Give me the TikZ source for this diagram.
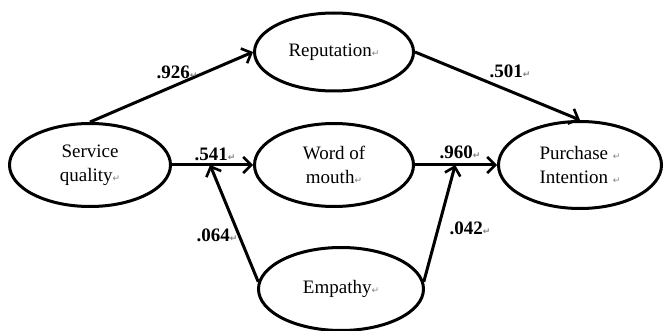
\documentclass[tikz,border=0pt]{standalone}
\usepackage{fontspec}
\setmainfont{Liberation Serif}
\newfontfamily\symf{DejaVu Sans}
\usetikzlibrary{arrows.meta,shapes.geometric,calc}
\newcommand{\rmark}{{\symf\fontsize{9}{9}\selectfont\color{gray}↵}}
\begin{document}
\begin{tikzpicture}[x=1pt,y=-1pt,
  ell/.style={ellipse,draw,line width=3pt,inner sep=0pt,align=center,
    font=\fontsize{19}{24}\selectfont},
  arr/.style={line width=3pt,-{Straight Barb[length=8pt,width=16pt,line width=2.6pt]}},
  lbl/.style={font=\fontsize{19}{22}\selectfont\bfseries,inner sep=0pt}]
\useasboundingbox (0,0) rectangle (664,331);
\node[ell,minimum width=161pt,minimum height=83pt] (sq) at (90,165) {Service\\quality\rmark};
\node[ell,minimum width=159pt,minimum height=78pt] (rep) at (334,52) {Reputation\rmark};
\node[ell,minimum width=159pt,minimum height=83pt] (wom) at (334,165) {Word of\\mouth\rmark};
\node[ell,minimum width=163pt,minimum height=87pt] (pi) at (580,165) {Purchase \rmark\\Intention \rmark};
\node[ell,minimum width=165pt,minimum height=83pt] (emp) at (341,289) {Empathy\rmark};
\coordinate (j1) at ($(sq.east)!0.47!(wom.west)$);
\coordinate (j2) at ($(wom.east)!0.49!(pi.west)$);
\draw[arr] (sq.north) -- (rep.west);
\draw[arr] (rep.east) -- (pi.north);
\draw[arr] (sq.east) -- (wom.west);
\draw[arr] (wom.east) -- (pi.west);
\draw[arr] (emp.175) -- (j1);
\draw[arr] (emp.5) -- (j2);
\node[lbl] (l1) at (177,72) {.926\rmark};
\node[lbl] (l2) at (510,71) {.501\rmark};
\node[lbl] (l3) at (215,154) {.541\rmark};
\node[lbl] (l4) at (460,152) {.960\rmark};
\node[lbl] (l5) at (217,235) {.064\rmark};
\node[lbl] (l6) at (470,228) {.042\rmark};
\end{tikzpicture}
\end{document}
